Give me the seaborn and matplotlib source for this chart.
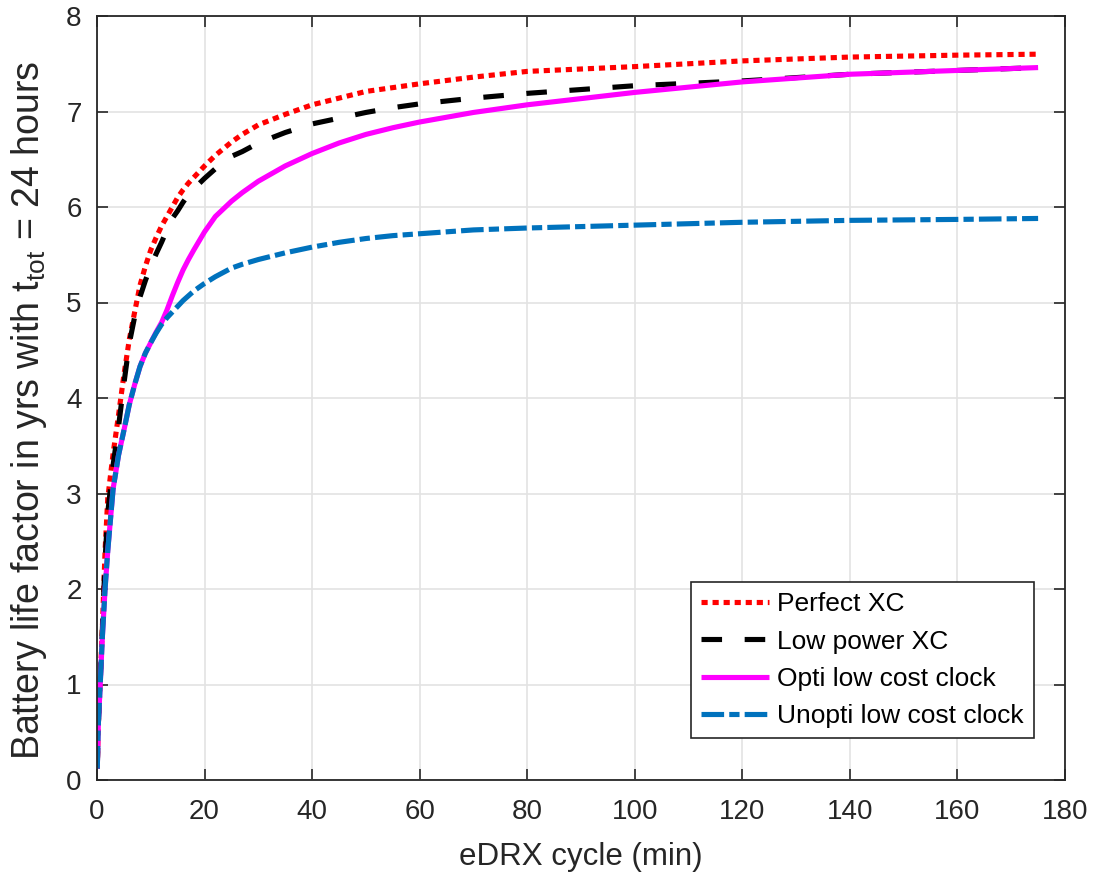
import numpy as np
import pandas as pd
import matplotlib
matplotlib.use("Agg")
import matplotlib.pyplot as plt
import seaborn as sns

#data (eDRX cycle in minutes -> battery life factor in years)
edrx_min = [0.05, 0.25, 0.5, 1, 1.5, 2, 3, 4, 5, 6, 7, 8, 9, 10, 11, 12, 13, 14, 15, 16, 17, 18, 20,
            22, 25, 27, 30, 35, 40, 45, 50, 55, 60, 70, 80, 100, 120, 140, 160, 175]

perfect_xc = [0.12, 0.59, 0.9, 1.6, 2.4, 2.95, 3.42, 3.82, 4.24, 4.61, 4.9, 5.18, 5.38, 5.55, 5.68,
              5.8, 5.9, 6.0, 6.1, 6.18, 6.25, 6.31, 6.43, 6.54, 6.68, 6.76, 6.86, 6.97, 7.07,
              7.14, 7.21, 7.25, 7.29, 7.36, 7.42, 7.47, 7.53, 7.57, 7.59, 7.6]
low_power_xc = [0.12, 0.59, 0.9, 1.58, 2.3, 2.8, 3.3, 3.7, 4.15, 4.57, 4.85, 5.06, 5.23, 5.38, 5.51,
                5.63, 5.76, 5.88, 5.96, 6.05, 6.13, 6.19, 6.3, 6.4, 6.53, 6.58, 6.67, 6.78, 6.87,
                6.93, 6.99, 7.04, 7.08, 7.14, 7.19, 7.27, 7.32, 7.39, 7.43, 7.46]
opti_clock = [0.12, 0.59, 0.88, 1.5, 2.0, 2.4, 3.05, 3.4, 3.66, 3.93, 4.14, 4.33, 4.47, 4.58, 4.69,
              4.79, 4.92, 5.07, 5.21, 5.34, 5.45, 5.55, 5.74, 5.9, 6.06, 6.15, 6.27, 6.43, 6.56,
              6.67, 6.76, 6.83, 6.89, 6.99, 7.07, 7.2, 7.31, 7.39, 7.43, 7.46]
unopti_clock = [0.12, 0.59, 0.88, 1.5, 2.0, 2.4, 3.05, 3.4, 3.66, 3.93, 4.14, 4.33, 4.47, 4.58, 4.68,
                4.77, 4.84, 4.9, 4.96, 5.02, 5.07, 5.12, 5.2, 5.27, 5.36, 5.4, 5.45, 5.52, 5.58,
                5.63, 5.67, 5.7, 5.72, 5.76, 5.78, 5.81, 5.84, 5.86, 5.87, 5.88]

labels = ['Perfect XC', 'Low power XC', 'Opti low cost clock', 'Unopti low cost clock']
x_ticks = [0, 20, 40, 60, 80, 100, 120, 140, 160, 180]
y_ticks = [0, 1, 2, 3, 4, 5, 6, 7, 8]

df = pd.DataFrame({'x': edrx_min, labels[0]: perfect_xc, labels[1]: low_power_xc,
                   labels[2]: opti_clock, labels[3]: unopti_clock})

sns.set_theme(style='whitegrid')
plt.rcParams['font.family'] = ['Liberation Sans', 'DejaVu Sans']
plt.rcParams['mathtext.fontset'] = 'custom'
plt.rcParams['mathtext.rm'] = 'Liberation Sans'
plt.rcParams['mathtext.it'] = 'Liberation Sans'

dark = '#262626'
fig = plt.figure(figsize=(10.93, 8.73), dpi=100)
ax = fig.add_axes([97/1093, 1 - 780/873, 968/1093, 764/873])
ax.set_facecolor('white')

styles = [('#ff0000', (0, (1.2, 0.95))),
          ('#000000', (0, (4.0, 4.4))),
          ('#ff00ff', '-'),
          ('#0072bd', (0, (4.4, 1.0, 2.0, 1.0)))]

for name, (col, ls) in zip(labels, styles):
    sns.lineplot(data=df, x='x', y=name, color=col, linestyle=ls, lw=3.7,
                 label=name, ax=ax, estimator=None)
for ln in ax.lines:
    ln.set_dash_capstyle('butt')
    ln.set_solid_capstyle('butt')

ax.set_xlim(0, 180)
ax.set_ylim(0, 8)
ax.set_xticks(x_ticks)
ax.set_yticks(y_ticks)
ax.grid(True, color='#e3e3e3', lw=1.2)
for s in ax.spines.values():
    s.set_visible(True)
    s.set_color(dark)
    s.set_linewidth(1.3)
ax.tick_params(direction='in', length=8, width=1.2, color=dark, labelcolor=dark,
               labelsize=20, top=True, right=True, bottom=True, left=True)
ax.tick_params(axis='x', pad=14)
ax.tick_params(axis='y', pad=11)

ax.set_xlabel('eDRX cycle (min)', fontsize=22.5, color=dark, labelpad=12)
ax.set_ylabel('Battery life factor in yrs with t$_{\\mathrm{tot}}$ = 24 hours',
              fontsize=27, color=dark)
ax.yaxis.set_label_coords(-0.05, 0.484)

leg = ax.legend(loc='lower right', bbox_to_anchor=(0.968, 0.055), fontsize=19,
                frameon=True, fancybox=False, framealpha=1, edgecolor=dark,
                handlelength=2.6, handletextpad=0.3, labelspacing=0.5, borderpad=0.38,
                borderaxespad=0)
leg.get_frame().set_linewidth(1.2)
for t in leg.get_texts():
    t.set_color('black')

plt.savefig('out.png', dpi=100)
